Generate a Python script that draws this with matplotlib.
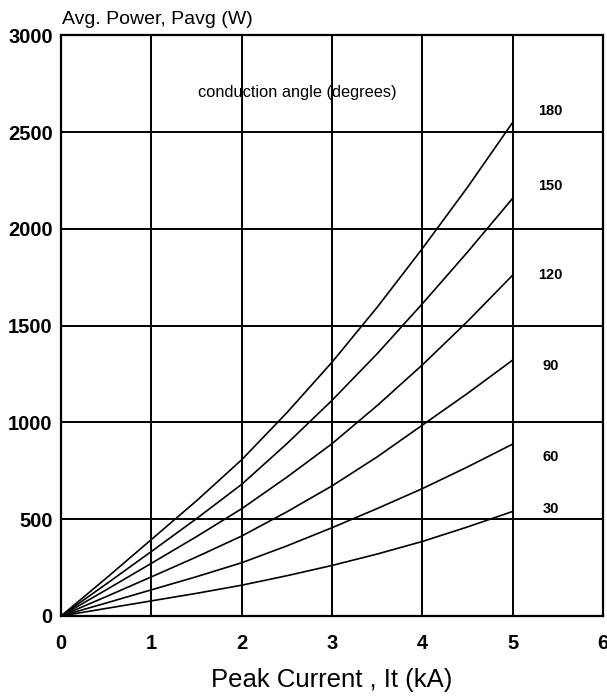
import matplotlib.pyplot as plt

plt.rcParams['font.family'] = ['Liberation Sans', 'DejaVu Sans']

current = [0, 0.5, 1, 1.5, 2, 2.5, 3, 3.5, 4, 4.5, 5]

power_180 = [0, 195, 395, 595, 807, 1050, 1311, 1595, 1898, 2215, 2550]
power_150 = [0, 165, 333, 503, 680, 890, 1114, 1355, 1613, 1880, 2158]
power_120 = [0, 135, 272, 410, 554, 717, 890, 1087, 1297, 1522, 1761]
power_90 = [0, 100, 202, 305, 413, 538, 672, 822, 986, 1150, 1322]
power_60 = [0, 67, 135, 203, 275, 362, 456, 555, 658, 770, 888]
power_30 = [0, 39, 78, 117, 159, 208, 261, 320, 385, 460, 540]

angles = ["180", "150", "120", "90", "60", "30"]
label_y = [2610, 2220, 1760, 1290, 820, 555]

x_ticks = [0, 1, 2, 3, 4, 5, 6]
y_ticks = [0, 500, 1000, 1500, 2000, 2500, 3000]

fig = plt.figure(figsize=(6.07, 6.98), dpi=100)
ax = fig.add_axes([0.1005, 0.1175, 0.893, 0.832])

curves = [power_180, power_150, power_120, power_90, power_60, power_30]
for p in curves:
    ax.plot(current, p, color="black", linewidth=1.2)

for name, y in zip(angles, label_y):
    ax.text(5.42, y, name, fontsize=10.5, fontweight="bold", ha="center", va="center")

ax.text(1.52, 2705, "conduction angle (degrees)", fontsize=11.8, ha="left", va="center")

ax.set_xlim(0, 6)
ax.set_ylim(0, 3000)
ax.set_xticks(x_ticks)
ax.set_yticks(y_ticks)
ax.grid(True, color="black", linewidth=1.4)
ax.tick_params(axis="x", length=0, pad=13, labelsize=14.5)
ax.tick_params(axis="y", length=0, pad=6, labelsize=14.5)
for lab in ax.get_xticklabels() + ax.get_yticklabels():
    lab.set_fontweight("bold")
for s in ax.spines.values():
    s.set_linewidth(1.6)

fig.text(62 / 607, 1 - 20 / 698, "Avg. Power, Pavg (W)", fontsize=14, ha="left", va="center")
ax.set_xlabel("Peak Current , It (kA)", fontsize=18.5, labelpad=11)

plt.savefig("out.png", dpi=100)
